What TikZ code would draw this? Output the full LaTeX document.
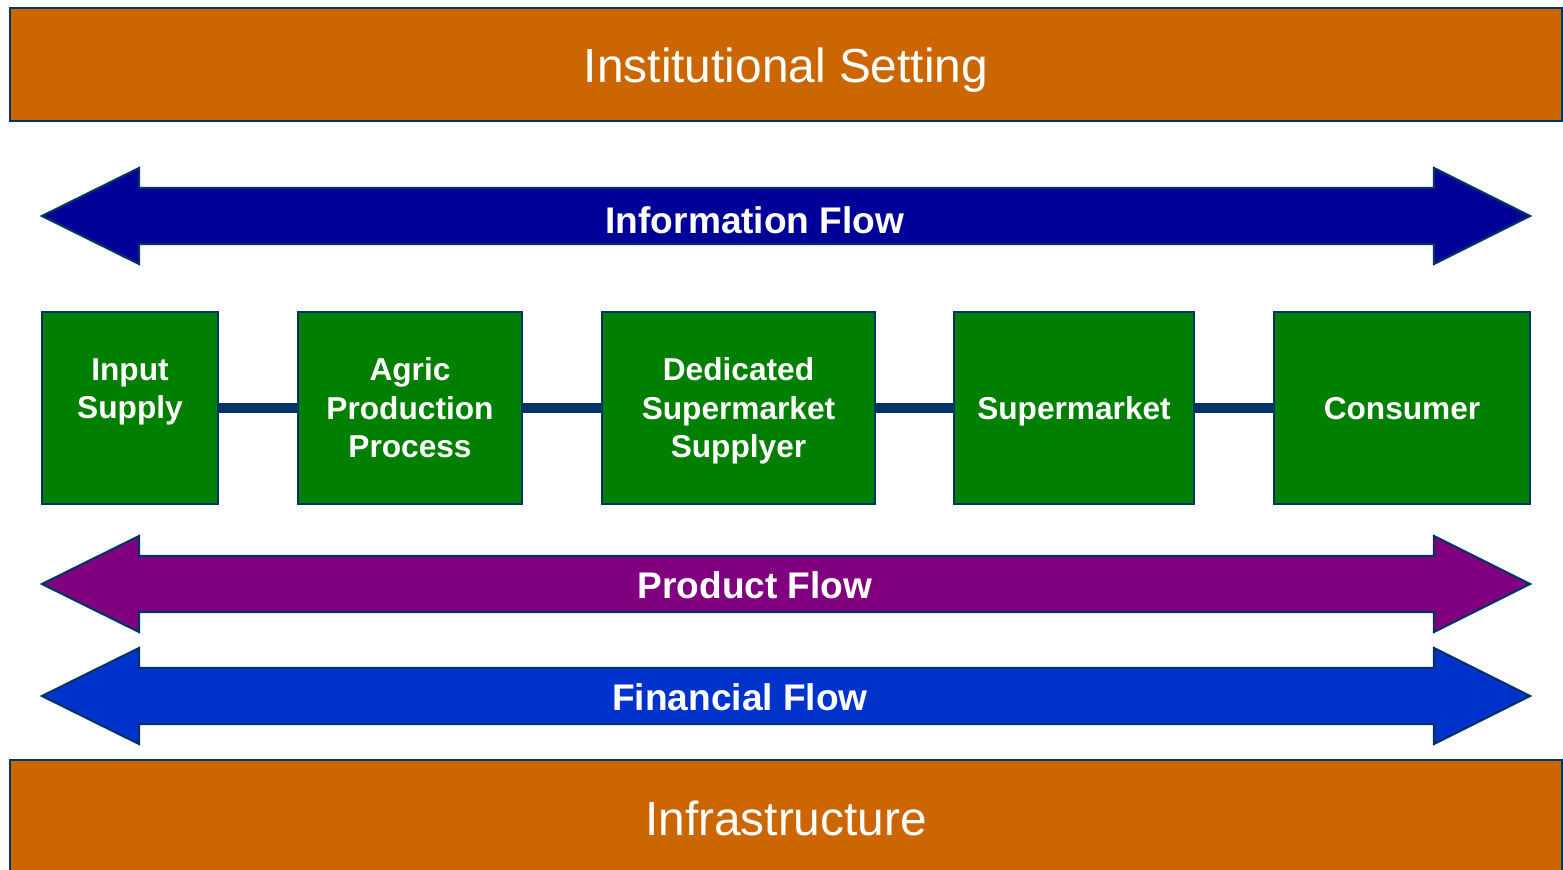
\documentclass[tikz,border=0pt]{standalone}
\usepackage{fontspec}
\setmainfont{Liberation Sans}
\usepackage{tikz}

\definecolor{barorange}{HTML}{CC6600}
\definecolor{stagegreen}{HTML}{007F00}
\definecolor{edgenavy}{HTML}{003366}
\definecolor{infoblue}{HTML}{000099}
\definecolor{productpurple}{HTML}{800080}
\definecolor{financeblue}{HTML}{0033CC}

\tikzset{
    bar/.style = {fill = barorange, draw = edgenavy, line width = 0.6pt},
    bartext/.style = {text = white, font = \fontsize{13.6}{16}\selectfont},
    stage/.style = {fill = stagegreen, draw = edgenavy, line width = 0.6pt, text = white,
                    align = center, inner sep = 0pt, text depth = -2.6pt,
                    font = \bfseries\fontsize{9}{10.95}\selectfont},
    link/.style = {draw = edgenavy, line width = 3.1pt},
    flow/.style = {draw = edgenavy, line width = 0.6pt, line join = miter},
    flowtext/.style = {text = white, font = \bfseries\fontsize{10.55}{12}\selectfont}
}

\begin{document}
\begin{tikzpicture}[x = 0.01cm, y = -0.01cm]
        \useasboundingbox (0,0) rectangle (1563,869);

        % top and bottom bars
        \draw [bar] (10,8) rectangle (1562,121);
        \node [bartext] (setting) at (786,70) {Institutional Setting};
        \draw [bar] (10,760) rectangle (1562,890);
        \node [bartext] (infra) at (786,818) {Infrastructure};

        % information flow
        \draw [flow, fill = infoblue] (42,216) -- (139,168) -- (139,188) -- (1434,188) -- (1434,168)
            -- (1530,216) -- (1434,264) -- (1434,244) -- (139,244) -- (139,264) -- cycle;
        \node [flowtext] (info) at (755,220) {Information Flow};

        % supply chain stages
        \node [stage, minimum width = 1.76cm, minimum height = 1.92cm] (input) at (130,408) {Input\\Supply\\\mbox{}};
        \node [stage, minimum width = 2.24cm, minimum height = 1.92cm] (agric) at (410,408) {Agric\\Production\\Process};
        \node [stage, minimum width = 2.73cm, minimum height = 1.92cm] (supplier) at (738.5,408) {Dedicated\\Supermarket\\Supplyer};
        \node [stage, minimum width = 2.40cm, minimum height = 1.92cm] (market) at (1074,408) {Supermarket};
        \node [stage, minimum width = 2.56cm, minimum height = 1.92cm] (consumer) at (1402,408) {Consumer};

        \draw [link] (input) -- (agric);
        \draw [link] (agric) -- (supplier);
        \draw [link] (supplier) -- (market);
        \draw [link] (market) -- (consumer);

        % product flow
        \draw [flow, fill = productpurple] (42,584) -- (139,536) -- (139,556) -- (1434,556) -- (1434,536)
            -- (1530,584) -- (1434,632) -- (1434,612) -- (139,612) -- (139,632) -- cycle;
        \node [flowtext] (product) at (755,585) {Product Flow};

        % financial flow
        \draw [flow, fill = financeblue] (42,696) -- (139,648) -- (139,668) -- (1434,668) -- (1434,648)
            -- (1530,696) -- (1434,744) -- (1434,724) -- (139,724) -- (139,744) -- cycle;
        \node [flowtext] (finance) at (740,697) {Financial Flow};
    \end{tikzpicture}
\end{document}
